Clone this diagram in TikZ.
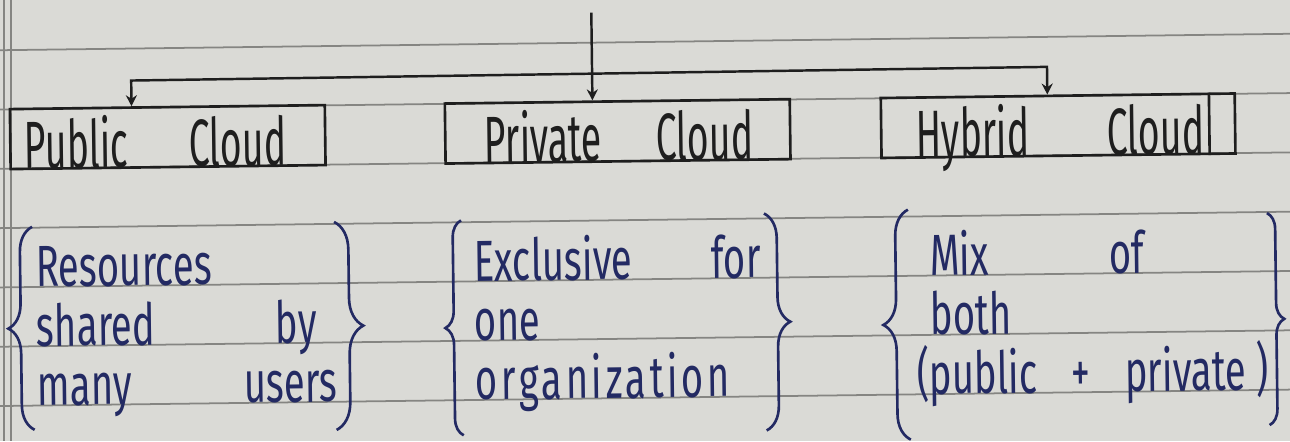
\documentclass[tikz,border=0pt]{standalone}
\usepackage{fontspec}
\usetikzlibrary{arrows.meta, decorations.pathreplacing, calc}

\definecolor{paper}{HTML}{DADAD6}
\definecolor{rule}{HTML}{858582}
\definecolor{ink}{HTML}{1E1E1E}
\definecolor{blueink}{HTML}{232A63}

\newfontfamily\handfont[FakeStretch=0.56]{Fira Sans}
\newfontfamily\notefont[FakeStretch=0.66]{Fira Sans}

\begin{document}
\begin{tikzpicture}[
    x=0.02cm, y=-0.02cm,
    cloudbox/.style={draw=ink, line width=1.5pt, inner sep=0pt, anchor=base west, align=left, text height=1.2cm, text depth=0pt, text=ink, font=\handfont\fontsize{38}{44}\selectfont},
    note/.style={anchor=base west, inner sep=0pt, align=left, text=blueink, font=\notefont\fontsize{33}{33.74}\selectfont},
    curly/.style={decorate, decoration={brace, amplitude=#1}, draw=blueink, line width=1.5pt},
    arrow/.style={-{Stealth[length=0.22cm, width=0.22cm]}, draw=ink, line width=1.4pt},
    twoway/.style={{Stealth[length=0.22cm, width=0.22cm]}-{Stealth[length=0.22cm, width=0.22cm]}, draw=ink, line width=1.4pt},
    ruling/.style={draw=rule, line width=1pt}
]
    % the page
    \useasboundingbox (0,0) rectangle (1290,441);
    \fill[paper] (0,0) rectangle (1290,441);
    \clip (0,0) rectangle (1290,441);
    \draw[ruling] (4,0) -- (4,441);
    \draw[ruling] (11,0) -- (11,441);

    \begin{scope}[rotate around={0.73:(645,220)}, transform shape]
    \foreach \k in {0,...,6}
        \draw[ruling] (-60,42+59.3*\k) -- (1350,42+59.3*\k);

    % the three kinds
    \node[cloudbox, text width=6.3cm] (pub) at (10,161) {\hspace*{0.28cm}Public\hfill Cloud\hspace*{0.78cm}};
    \node[cloudbox, text width=6.9cm] (priv) at (445,161) {\hspace*{0.78cm}Private\hfill Cloud\hspace*{0.74cm}};
    \node[cloudbox, text width=7.08cm] (hyb) at (881,161) {\hspace*{0.7cm}Hybrid\hfill Cloud\hspace*{0.62cm}};
    \draw[ink, line width=1.5pt] ([xshift=-0.54cm]hyb.north east) -- ([xshift=-0.54cm]hyb.south east);

    % arrows from above
    \coordinate (feed) at (594,12);
    \coordinate (barL) at (133,74);
    \coordinate (barR) at (1049,72);
    \draw[arrow] (feed) -- (feed |- priv.north);
    \draw[twoway] (barL |- pub.north) -- (barL) -- (barR) -- (barR |- hyb.north);

    % what each one means
    \node[note, text width=6cm] (pubnote) at (35,279.2) {Resources\\ shared\hfill by\rule{0.4cm}{0pt}\\ many\hfill users};
    \node[note, text width=5.74cm] (privnote) at (473,279.2) {Exclusive\hfill for\\ one\\ {\addfontfeature{LetterSpace=6}organization}};
    \node[note, text width=7.02cm] (hybnote) at (915,279.2) {\hspace*{0.28cm}Mix\hspace{2.4cm}of\\ \hspace*{0.28cm}both\\ (public\hfill+\hfill private\,)};

    \draw[curly=0.5cm] (32,422) -- (32,219);
    \draw[curly=0.56cm] (334,218) -- (334,426);
    \draw[curly=0.34cm] (461,433) -- (461,218);
    \draw[curly=0.5cm] (764,215) -- (764,432);
    \draw[curly=0.52cm] (908,443) -- (908,213);
    \draw[curly=0.32cm] (1267,221) -- (1267,433);
    \end{scope}
\end{tikzpicture}
\end{document}
